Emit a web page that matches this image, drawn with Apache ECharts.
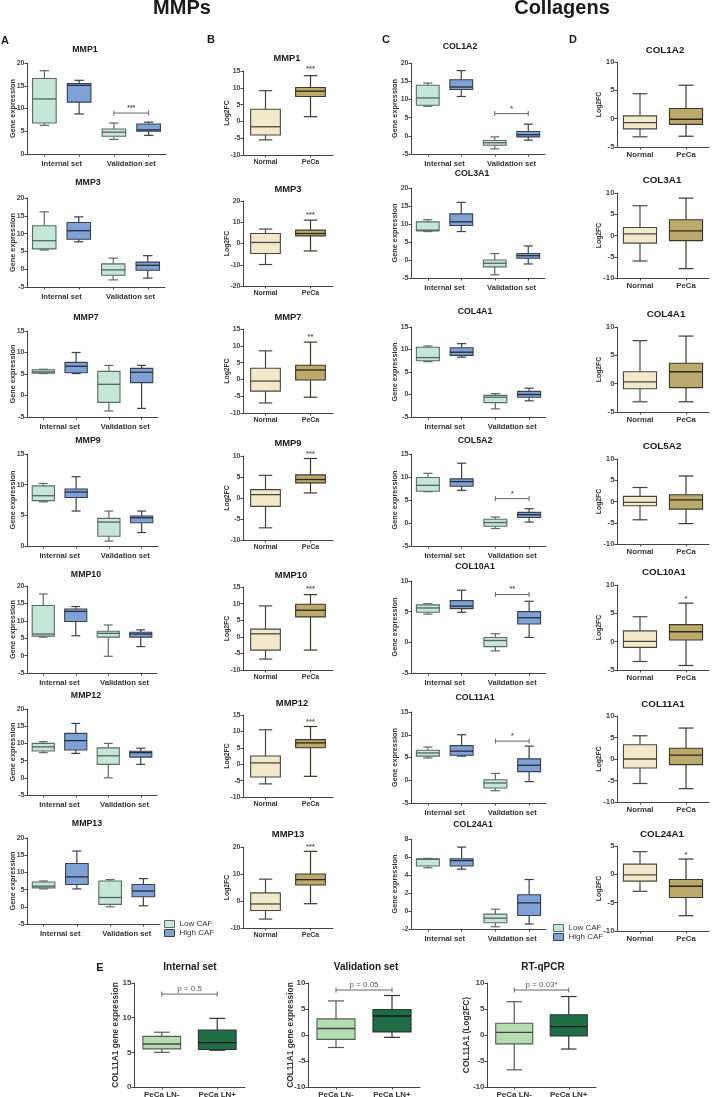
<!DOCTYPE html>
<html><head><meta charset="utf-8">
<script src="https://cdn.jsdelivr.net/npm/echarts@6/dist/echarts.min.js"></script>
<style>html,body{margin:0;padding:0;background:#fff}#c{width:715px;height:1097px}</style>
</head><body><div id="c"></div><script>
// ---------------- DATA ----------------
const mmpGenes = ['MMP1','MMP3','MMP7','MMP9','MMP10','MMP12','MMP13'];
const colGenes = ['COL1A2','COL3A1','COL4A1','COL5A2','COL10A1','COL11A1','COL24A1'];
const cafGroups = ['Low CAF','High CAF'];
const cafSets = ['Internal set','Validation set'];
const tissues = ['Normal','PeCa'];
const lnGroups = ['PeCa LN-','PeCa LN+'];
const lnTitles = ['Internal set','Validation set','RT-qPCR'];
const lnAxisNames = ['COL11A1 gene expression','COL11A1 gene expression','COL11A1 (Log2FC)'];

// box = [min, Q1, median, Q3, max]; order: Internal Low, Internal High, Validation Low, Validation High
const mmpCafBoxes = [
  [[6.3,6.8,12.1,16.6,18.3],[8.8,11.4,15.1,15.5,16.2],[3.2,3.9,4.8,5.5,6.8],[4.1,5.0,5.3,6.6,7.0]],
  [[5.4,5.7,8.0,12.2,16.1],[7.7,8.4,10.8,13.1,14.7],[-3.0,-1.7,-0.2,1.5,3.1],[-2.5,-0.3,1.1,2.0,3.8]],
  [[5.1,5.2,5.5,6.0,6.1],[5.1,5.3,6.8,7.7,10.0],[-3.6,-1.6,2.6,5.6,7.0],[-3.0,3.0,5.4,6.3,7.0]],
  [[7.2,7.4,8.2,9.8,10.2],[5.7,7.9,8.8,9.3,11.3],[0.8,1.6,3.9,4.5,5.7],[2.2,3.8,4.6,4.9,5.7]],
  [[5.3,5.6,6.2,14.4,17.7],[5.7,9.8,12.7,13.4,14.1],[-0.2,5.3,6.4,7.0,8.8],[2.6,5.3,6.2,6.7,7.4]],
  [[7.3,7.8,9.0,10.0,10.5],[7.1,8.1,10.8,12.9,15.8],[0.0,3.9,6.4,8.7,10.0],[3.9,6.0,7.3,7.7,8.6]],
  [[5.2,5.5,6.0,7.2,7.5],[5.2,6.5,8.7,12.6,16.2],[0.0,0.7,2.7,7.5,7.9],[0.3,2.9,4.6,6.5,8.2]]
];
// order: Normal, PeCa
const mmpTissueBoxes = [
  [[-5.5,-4.05,-1.6,3.6,9.15],[1.4,7.4,9.0,10.1,13.6]],
  [[-9.9,-4.7,0.5,4.7,6.8],[-3.5,3.6,4.7,6.3,11.0]],
  [[-7.0,-3.5,-0.5,3.3,8.5],[-5.3,-0.2,2.8,4.2,11.1]],
  [[-7.1,-2.0,0.8,2.0,5.4],[1.2,3.6,4.4,5.5,9.4]],
  [[-6.7,-4.0,0.9,2.3,9.3],[-4.0,6.0,8.0,9.8,12.7]],
  [[-6.0,-3.9,0.4,2.5,10.5],[-3.7,5.0,6.5,7.5,11.5]],
  [[-6.7,-3.5,-1.1,3.0,8.1],[-1.0,5.9,7.9,10.0,18.4]]
];
const colCafBoxes = [
  [[8.1,8.4,10.4,13.9,14.5],[10.8,12.7,13.4,15.4,17.9],[-3.6,-2.6,-1.9,-1.3,-0.3],[-1.2,-0.3,0.3,1.2,3.2]],
  [[7.9,8.1,8.3,10.6,11.2],[7.9,9.6,10.6,12.8,16.0],[-4.1,-1.9,-0.9,0.0,1.8],[-1.1,0.5,1.2,1.8,3.9]],
  [[7.3,7.5,8.2,10.5,10.8],[8.3,8.7,9.4,10.4,11.3],[-3.2,-1.8,-0.6,-0.2,0.2],[-1.4,-0.6,0.0,0.7,1.4]],
  [[6.8,6.9,8.2,9.9,10.8],[7.1,8.0,9.0,9.6,13.0],[-1.2,-0.7,0.1,0.8,1.3],[0.2,1.2,1.8,2.3,3.1]],
  [[4.6,4.9,5.6,6.1,6.3],[4.9,5.5,5.9,6.8,8.5],[-1.4,-0.7,0.3,0.8,1.4],[0.8,3.0,4.0,5.0,6.7]],
  [[4.9,5.3,6.0,6.6,7.3],[5.3,5.5,6.4,7.6,10.0],[-2.3,-1.7,-0.6,0.1,1.5],[-0.3,1.9,3.3,4.7,7.5]],
  [[4.8,5.0,5.75,5.8,5.85],[4.65,5.0,5.6,5.8,7.1],[-1.75,-1.3,-0.8,-0.35,0.2],[-1.45,-0.5,0.9,1.8,3.5]]
];
const colTissueBoxes = [
  [[-3.2,-1.8,-0.7,0.5,4.4],[-3.1,-1.0,-0.1,1.8,5.9]],
  [[-6.0,-1.8,0.4,1.9,7.0],[-7.8,-1.2,1.1,3.7,8.8]],
  [[-3.2,-0.9,0.3,2.1,7.6],[-3.2,-0.7,2.1,3.6,8.4]],
  [[-4.3,-1.0,-0.2,1.2,3.3],[-5.2,-1.8,0.4,1.6,6.0]],
  [[-3.5,-1.0,0.05,1.9,4.4],[-4.2,0.3,1.75,3.0,6.8]],
  [[-5.7,-2.1,0.0,3.3,5.4],[-6.9,-1.3,0.9,2.5,7.2]],
  [[-3.0,-1.2,-0.1,1.8,4.0],[-7.3,-4.1,-2.1,-0.9,2.7]]
];
// LN panels (E): order LN-, LN+
const lnInternal = [[5.0,5.5,6.2,7.3,7.9],[5.3,5.4,6.4,8.2,9.9]];
const lnValidation = [[-2.4,-0.85,1.25,3.1,6.55],[-0.45,0.6,3.65,4.9,7.6]];
const lnQpcr = [[-6.7,-1.7,0.5,2.25,6.4],[-2.7,-0.2,1.6,3.9,7.4]];

// significance [label, value]
const mmpCafSig = [['***',9.0],null,null,null,null,null,null];
const colCafSig = [['*',6.1],null,null,['*',5.3],['**',7.8],['*',8.6],null];
const mmpTissueSig = [['***',15.6],['***',13.6],['**',12.6],['***',10.6],['***',14.3],['***',13.0],['***',20.2]];
const colTissueSig = [null,null,null,null,['*',7.6],null,['*',3.5]];
const lnSig = [['p = 0.5',13.4],['p = 0.05',8.65],['p = 0.03*',8.65]];

// axis ticks [min, max, interval]
const mmpCafTicks = [[0,20,5],[-5,20,5],[-5,15,5],[0,15,5],[-5,20,5],[-5,20,5],[-5,20,5]];
const mmpTissueTicks = [[-10,15,5],[-20,20,10],[-10,15,5],[-10,10,5],[-10,15,5],[-10,15,5],[-10,20,10]];
const colCafTicks = [[-5,20,5],[-5,20,5],[-5,15,5],[-5,15,5],[-5,10,5],[-5,15,5],[-2,8,2]];
const colTissueTicks = [[-5,10,5],[-10,10,5],[-5,10,5],[-10,10,5],[-5,10,5],[-10,10,5],[-10,5,5]];
const lnTicks = [[0,15,5],[-10,10,5],[-10,10,5]];

// ---------------- STYLE / LAYOUT ----------------
const F = "'Liberation Sans', Arial, sans-serif";
const AX = '#444';
const pal = {
  low:  {fill:'#c4e7d9', border:'#5d6a65', median:'#56625d'},
  high: {fill:'#7fa2d6', border:'#39404e', median:'#262b36'},
  normal:{fill:'#f1e9c9', border:'#474740', median:'#4a4a40'},
  peca: {fill:'#bcaa6c', border:'#3a382c', median:'#2a271c'},
  lnNeg:{fill:'#b6ddb1', border:'#555a55', median:'#3f463f'},
  lnPos:{fill:'#1f6d46', border:'#2f3430', median:'#0e1a12'}
};
const L = {
  A:{left:27, right:[166,165,158,158,157,157,160], top:[63,198,331,454,586,709,838], bottom:[154,287,417,546,673,795,924], tx:[85,88,86,88,86,86,87], ty:[50,183,318,441,575,696,824], tfs:8.8, gap:11},
  B:{left:243, right:[333,333,333,333,333,333,333], top:[71,201,329,456,587,715,847], bottom:[155,286,413,540,670,797,928], tx:[287,288,288,288,291,292,288], ty:[58,189,317,443,575,703,834], tfs:9.4, gap:12.5},
  C:{left:411, right:[545,545,546,546,546,546,546], top:[63,188,327,454,581,712,839], bottom:[154,278,417,546,673,803,929], tx:[460,472,475,475,475,475,473], ty:[47,174,312,441,567,698,825], tfs:8.8, gap:12.5},
  D:{left:617, right:[709,709,709,709,709,709,709], top:[62,193,327,459,585,716,846], bottom:[147,278,412,544,670,802,931], tx:[665,662,666,662,664,663,662], ty:[50,180,314,446,572,704,834], tfs:9.8, gap:14.5}
};
const E = {left:[134,308,487], right:[245,420,596], top:983, bottom:1087, tx:[190,366,543], ty:967, gap:[14.8,13.8,16.8]};

const grids=[], xAxes=[], yAxes=[], series=[], graphics=[];

function addGrid(l,r,t,b){ grids.push({left:l, top:t, width:r-l, height:b-t, containLabel:false, outerBoundsMode:'none'}); return grids.length-1; }
function addX(g, cats, opt){
  xAxes.push(Object.assign({type:'category', gridIndex:g, data:cats, position:'bottom', boundaryGap:true,
    axisLine:{show:true, onZero:false, lineStyle:{color:AX, width:1}},
    axisTick:{show:true, alignWithLabel:true, interval:0, length:2.5, lineStyle:{color:AX, width:1}},
    axisLabel:{show:true, interval:0, fontSize:7.5, fontWeight:'bold', color:'#333', fontFamily:F, margin:4},
    splitLine:{show:false}, axisPointer:{show:false}}, opt||{}));
  return xAxes.length-1;
}
function addY(g, t, name, gap, fs, nfs){
  yAxes.push({type:'value', gridIndex:g, min:t[0], max:t[1], interval:t[2], name:name, nameLocation:'middle', nameGap:gap, nameRotate:90,
    nameMoveOverlap:false,
    nameTextStyle:{fontSize:nfs, fontWeight:'bold', color:'#333', fontFamily:F},
    axisLine:{show:true, onZero:false, lineStyle:{color:AX, width:1}},
    axisTick:{show:true, length:2.5, lineStyle:{color:AX, width:1}},
    axisLabel:{fontSize:fs, fontWeight:'bold', color:'#444', fontFamily:F, margin:2.5},
    splitLine:{show:false}, axisPointer:{show:false}});
  return yAxes.length-1;
}
function boxSeries(xi, yi, boxes, colors, ratio, capRatio){
  return {type:'custom', xAxisIndex:xi, yAxisIndex:yi, clip:false, silent:true,
    encode:{x:0, y:[1,2,3,4,5]},
    data: boxes.map((b,i)=>[i].concat(b)),
    renderItem:function(params, api){
      const i=api.value(0);
      const pMin=api.coord([i,api.value(1)]), pQ1=api.coord([i,api.value(2)]), pMd=api.coord([i,api.value(3)]),
            pQ3=api.coord([i,api.value(4)]), pMax=api.coord([i,api.value(5)]);
      const band=api.size([1,0])[0];
      const w=band*ratio, cap=w*capRatio, cx=pMd[0];
      const c=colors[params.dataIndex % colors.length];
      const st={stroke:c.border, lineWidth:1.2};
      return {type:'group', children:[
        {type:'line', shape:{x1:cx,y1:pMax[1],x2:cx,y2:pQ3[1]}, style:st},
        {type:'line', shape:{x1:cx,y1:pQ1[1],x2:cx,y2:pMin[1]}, style:st},
        {type:'line', shape:{x1:cx-cap/2,y1:pMax[1],x2:cx+cap/2,y2:pMax[1]}, style:st},
        {type:'line', shape:{x1:cx-cap/2,y1:pMin[1],x2:cx+cap/2,y2:pMin[1]}, style:st},
        {type:'rect', shape:{x:cx-w/2,y:pQ3[1],width:w,height:pQ1[1]-pQ3[1]}, style:{fill:c.fill, stroke:c.border, lineWidth:1.1}},
        {type:'line', shape:{x1:cx-w/2,y1:pMd[1],x2:cx+w/2,y2:pMd[1]}, style:{stroke:c.median, lineWidth:1.3}}
      ]};
    }};
}
function bracketSeries(xi, yi, i0, i1, sig, fs, bold){
  return {type:'custom', xAxisIndex:xi, yAxisIndex:yi, clip:false, silent:true,
    encode:{x:[0,1], y:2}, data:[[i0,i1,sig[1]]],
    renderItem:function(params, api){
      const a=api.coord([api.value(0),api.value(2)]), b=api.coord([api.value(1),api.value(2)]);
      const st={stroke:'#666', lineWidth:1};
      return {type:'group', children:[
        {type:'line', shape:{x1:a[0],y1:a[1],x2:b[0],y2:b[1]}, style:st},
        {type:'line', shape:{x1:a[0],y1:a[1]-2.5,x2:a[0],y2:a[1]+2.5}, style:st},
        {type:'line', shape:{x1:b[0],y1:b[1]-2.5,x2:b[0],y2:b[1]+2.5}, style:st},
        {type:'text', x:(a[0]+b[0])/2, y:a[1]-1.5, style:{text:sig[0], align:'center', verticalAlign:'bottom', fontSize:fs, fontWeight:bold?'bold':'normal', fontFamily:F, fill:'#555'}}
      ]};
    }};
}
function starSeries(xi, yi, idx, sig){
  return {type:'custom', xAxisIndex:xi, yAxisIndex:yi, clip:false, silent:true,
    encode:{x:0, y:1}, data:[[idx, sig[1]]],
    renderItem:function(params, api){
      const p=api.coord([api.value(0),api.value(1)]);
      return {type:'text', x:p[0], y:p[1], style:{text:sig[0], align:'center', verticalAlign:'middle', fontSize:7.5, fontWeight:'bold', fontFamily:F, fill:'#555'}};
    }};
}
function txt(text, x, y, size, weight, color){
  graphics.push({type:'text', x:x, y:y, silent:true, style:{text:text, align:'center', verticalAlign:'middle', fontSize:size, fontWeight:weight||'bold', fontFamily:F, fill:color||'#1a1a1a'}});
}

const cafBoxCats = [];
cafSets.forEach(s=>cafGroups.forEach(g=>cafBoxCats.push(s+' '+g)));

function cafPanel(col, i, gene, boxes, ticks, sig){
  const g=addGrid(col.left, col.right[i], col.top[i], col.bottom[i]);
  const xi=addX(g, cafBoxCats, {axisLabel:{show:false}});
  addX(g, cafSets, {axisLine:{show:false, onZero:false}, axisTick:{show:false},
    axisLabel:{show:true, interval:0, fontSize:7.6, fontWeight:'bold', color:'#333', fontFamily:F, margin:6}});
  const yi=addY(g, ticks, 'Gene expression', col.gap, 7, 7.3);
  series.push(boxSeries(xi, yi, boxes, [pal.low, pal.high], 0.68, 0.4));
  if (sig) series.push(bracketSeries(xi, yi, 2, 3, sig, 7, true));
  txt(gene, col.tx[i], col.ty[i], col.tfs);
}
function tissuePanel(col, i, gene, boxes, ticks, sig, ratio, lfs){
  const g=addGrid(col.left, col.right[i], col.top[i], col.bottom[i]);
  const xi=addX(g, tissues, {axisLabel:{show:true, interval:0, fontSize:lfs, fontWeight:'bold', color:'#333', fontFamily:F, margin:4}});
  const yi=addY(g, ticks, 'Log2FC', col.gap, lfs, 6.8);
  series.push(boxSeries(xi, yi, boxes, [pal.normal, pal.peca], ratio, 0.45));
  if (sig) series.push(starSeries(xi, yi, 1, sig));
  txt(gene, col.tx[i], col.ty[i], col.tfs);
}

for (let i=0;i<7;i++){
  cafPanel(L.A, i, mmpGenes[i], mmpCafBoxes[i], mmpCafTicks[i], mmpCafSig[i]);
  tissuePanel(L.B, i, mmpGenes[i], mmpTissueBoxes[i], mmpTissueTicks[i], mmpTissueSig[i], 0.66, 7);
  cafPanel(L.C, i, colGenes[i], colCafBoxes[i], colCafTicks[i], colCafSig[i]);
  tissuePanel(L.D, i, colGenes[i], colTissueBoxes[i], colTissueTicks[i], colTissueSig[i], 0.72, 7.8);
}

const lnData=[lnInternal, lnValidation, lnQpcr];
for (let k=0;k<3;k++){
  const g=addGrid(E.left[k], E.right[k], E.top, E.bottom);
  const xi=addX(g, lnGroups, {axisLabel:{show:true, interval:0, fontSize:8, fontWeight:'bold', color:'#333', fontFamily:F, margin:3.5}});
  const yi=addY(g, lnTicks[k], lnAxisNames[k], E.gap[k], 8, 8.4);
  series.push(boxSeries(xi, yi, lnData[k], [pal.lnNeg, pal.lnPos], 0.68, 0.42));
  series.push(bracketSeries(xi, yi, 0, 1, lnSig[k], 8, false));
  txt(lnTitles[k], E.tx[k], E.ty, 10);
}

// legend dummy series
series.push({type:'line', name:cafGroups[0], xAxisIndex:0, yAxisIndex:0, data:[]});
series.push({type:'line', name:cafGroups[1], xAxisIndex:0, yAxisIndex:0, data:[]});
function legendCfg(left, top){
  return {left:left, top:top, orient:'vertical', itemWidth:10, itemHeight:7, itemGap:1, padding:0, selectedMode:false,
    textStyle:{fontSize:8, color:'#333', fontFamily:F},
    data:[{name:cafGroups[0], icon:'rect', itemStyle:{color:pal.low.fill, borderColor:'#5d6a65', borderWidth:1}},
          {name:cafGroups[1], icon:'rect', itemStyle:{color:pal.high.fill, borderColor:'#39404e', borderWidth:1}}]};
}

// headers & panel letters
txt('MMPs', 182, 8, 20);
txt('Collagens', 562, 8, 20);
txt('A', 5, 41, 11);
txt('B', 211, 40, 11);
txt('C', 386, 40, 11);
txt('D', 573, 40, 11);
txt('E', 100, 968, 11);

const chart = echarts.init(document.getElementById('c'), null, {renderer:'canvas'});
chart.setOption({
  animation:false,
  backgroundColor:'#ffffff',
  grid:grids, xAxis:xAxes, yAxis:yAxes, series:series,
  legend:[legendCfg(164,920), legendCfg(553,924)],
  graphic:graphics
});
</script></body></html>
